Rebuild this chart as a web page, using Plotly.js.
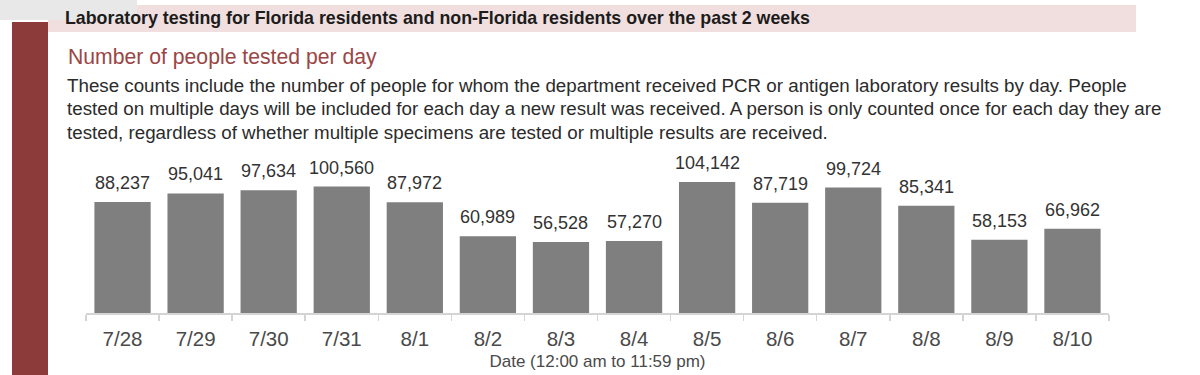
<!DOCTYPE html>
<html>
<head>
<meta charset="utf-8">
<script src="https://cdn.plot.ly/plotly-3.0.1.min.js"></script>
<style>html,body{margin:0;padding:0;background:#fff;}#chart{width:1200px;height:375px;}</style>
</head>
<body>
<div id="chart"></div>
<script>
const categories = ["7/28","7/29","7/30","7/31","8/1","8/2","8/3","8/4","8/5","8/6","8/7","8/8","8/9","8/10"];
const tested = [88237,95041,97634,100560,87972,60989,56528,57270,104142,87719,99724,85341,58153,66962];
const valueLabels = tested.map(v => v.toLocaleString("en-US"));

const headerText = "Laboratory testing for Florida residents and non-Florida residents over the past 2 weeks";
const subtitleText = "Number of people tested per day";
const paragraphLines = [
  "These counts include the number of people for whom the department received PCR or antigen laboratory results by day. People",
  "tested on multiple days will be included for each day a new result was received. A person is only counted once for each day they are",
  "tested, regardless of whether multiple specimens are tested or multiple results are received."
];
const xTitle = "Date (12:00 am to 11:59 pm)";

const W = 1200, H = 375;
const M = {l: 86, r: 91, t: 150, b: 62};
const PW = W - M.l - M.r, PH = H - M.t - M.b;
const px = x => (x - M.l) / PW;
const py = y => (H - M.b - y) / PH;
const FONT = "'Liberation Sans', Arial, sans-serif";

const trace = {
  type: "bar",
  x: categories,
  y: tested,
  marker: {color: "#7f7f7f", line: {width: 0}},
  hoverinfo: "skip"
};

const annotations = categories.map((c, i) => ({
  x: c, y: tested[i], xref: "x", yref: "y",
  text: valueLabels[i], showarrow: false,
  xanchor: "center", yanchor: "bottom", yshift: 7,
  font: {family: FONT, size: 18, color: "#333333"}
}));

annotations.push({
  xref: "paper", yref: "paper", x: px(63), y: py(18), xanchor: "left", yanchor: "middle",
  text: "<b>" + headerText + "</b>", showarrow: false,
  font: {family: FONT, size: 17.8, color: "#1c1c1c"}
});
annotations.push({
  xref: "paper", yref: "paper", x: px(66), y: py(57), xanchor: "left", yanchor: "middle",
  text: subtitleText, showarrow: false,
  font: {family: FONT, size: 21.2, color: "#9a4645"}
});
const lineY = [85, 109, 132];
paragraphLines.forEach((t, i) => annotations.push({
  xref: "paper", yref: "paper", x: px(65), y: py(lineY[i]), xanchor: "left", yanchor: "middle",
  text: t, showarrow: false,
  font: {family: FONT, size: 18.75, color: "#2b2b2b"}
}));

const shapes = [
  {type: "rect", xref: "paper", yref: "paper", x0: px(12), x1: px(48), y0: py(22), y1: py(380),
   fillcolor: "#8c3b3a", line: {width: 0}, layer: "below"},
  {type: "rect", xref: "paper", yref: "paper", x0: px(48), x1: px(1136), y0: py(5), y1: py(32),
   fillcolor: "#f1dfdf", line: {width: 0}, layer: "below"},
  {type: "rect", xref: "paper", yref: "paper", x0: px(0), x1: px(137), y0: py(0), y1: py(20),
   fillcolor: "#e8e8e8", line: {width: 0}, layer: "below"}
];

const layout = {
  width: W, height: H,
  margin: M,
  paper_bgcolor: "#ffffff", plot_bgcolor: "#ffffff",
  showlegend: false,
  bargap: 0.23,
  xaxis: {
    type: "category",
    showline: true, linecolor: "#d4d4d4", linewidth: 1.5,
    ticks: "outside", tickson: "boundaries", ticklen: 6, tickcolor: "#d4d4d4", tickwidth: 1.5,
    ticklabelstandoff: 7,
    tickfont: {family: FONT, size: 20.5, color: "#4a4a4a"},
    title: {text: xTitle, standoff: 6, font: {family: FONT, size: 17, color: "#4a4a4a"}},
    showgrid: false, zeroline: false, fixedrange: true
  },
  yaxis: {
    range: [0, 129600], visible: false, showgrid: false, zeroline: false, fixedrange: true
  },
  annotations: annotations,
  shapes: shapes
};

Plotly.newPlot("chart", [trace], layout, {displayModeBar: false, staticPlot: true});
</script>
</body>
</html>
